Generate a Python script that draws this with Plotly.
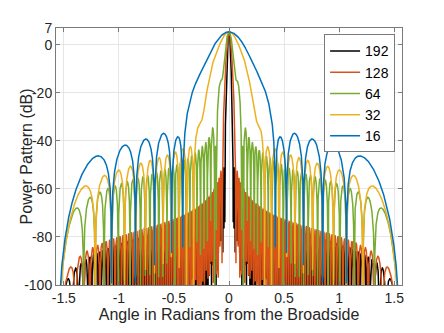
import numpy as np
import plotly.graph_objects as go

# ---- data -------------------------------------------------------------
SERIES_NAMES = ["192", "128", "64", "32", "16"]
N_ELEMENTS = [192, 128, 64, 32, 16]
# aperture taper of each array: gaussian core, edge pedestal and parabolic part
GAUSS_ALPHA = [3.2, 3.45, 4.3, 4.2, 3.15]
EDGE_SHARE = [0.015, 0.0145, 0.10, 0.077, 0.125]
WELCH_SHARE = [0.07, 0.055, 0.5, 0.0, 0.0]
PEAK_GAIN_DB = 5.4

X_TICKS = [-1.5, -1, -0.5, 0, 0.5, 1, 1.5]
X_TICK_LABELS = ["-1.5", "-1", "-0.5", "0", "0.5", "1", "1.5"]
Y_TICKS = [-100, -80, -60, -40, -20, 0, 7]
Y_TICK_LABELS = ["-100", "-80", "-60", "-40", "-20", "0", "7"]

COLORS = ["#000000", "#D95319", "#77AC30", "#EDB120", "#0072BD"]

theta = np.linspace(-np.pi / 2, np.pi / 2, 8001)
u = np.sin(theta)


def power_pattern(N, alpha, e, s):
    n = np.arange(N) - (N - 1) / 2
    h = (N - 1) / 2
    g = np.exp(-0.5 * (alpha * n / h) ** 2) - np.exp(-0.5 * alpha ** 2)
    wl = 1 - (n / h) ** 2
    w = (1 - e - s) * g / g.mean() + e + s * wl / wl.mean()
    af = np.exp(1j * np.pi * np.outer(u, n)) @ w / w.sum()
    p = np.abs(af) ** 2 * np.cos(theta) ** 2
    return PEAK_GAIN_DB + 10 * np.log10(np.maximum(p, 1e-30))


fig = go.Figure()
for name, N, a, e, s, c in zip(SERIES_NAMES, N_ELEMENTS, GAUSS_ALPHA,
                               EDGE_SHARE, WELCH_SHARE, COLORS):
    y = power_pattern(N, a, e, s)
    fig.add_trace(go.Scatter(
        x=np.round(theta, 5), y=np.round(np.maximum(y, -200), 2),
        mode="lines", name=name, line=dict(color=c, width=1.5)))

axis_common = dict(
    showline=True, linecolor="#7a7a7a", linewidth=1, mirror="ticks",
    ticks="inside", ticklen=4, tickcolor="#7a7a7a",
    showgrid=True, gridcolor="#e6e6e6", gridwidth=1, zeroline=False,
    tickfont=dict(size=14, color="#262626"),
)

fig.update_layout(
    width=436, height=325,
    margin=dict(l=48, r=42, t=16, b=45),
    paper_bgcolor="white", plot_bgcolor="white",
    font=dict(family="Liberation Sans, Arial, sans-serif", color="#262626"),
    xaxis=dict(range=[-np.pi / 2, np.pi / 2], tickvals=X_TICKS,
               ticktext=X_TICK_LABELS,
               title=dict(text="Angle in Radians from the Broadside",
                          font=dict(size=16), standoff=4),
               **axis_common),
    yaxis=dict(range=[-100, 7], tickvals=Y_TICKS, ticktext=Y_TICK_LABELS,
               ticklabelstandoff=0, **axis_common),
    legend=dict(x=0.98, y=0.975, xanchor="right", yanchor="top",
                bgcolor="white", bordercolor="#7a7a7a", borderwidth=1,
                font=dict(size=14, color="#000000"), itemwidth=30,
                tracegroupgap=0),
    annotations=[dict(text="Power Pattern (dB)", textangle=-90,
                      xref="paper", yref="paper", x=-0.084, y=0.5,
                      xanchor="center", yanchor="middle", showarrow=False,
                      font=dict(size=16, color="#262626"))],
)

fig.write_html("out.html")
